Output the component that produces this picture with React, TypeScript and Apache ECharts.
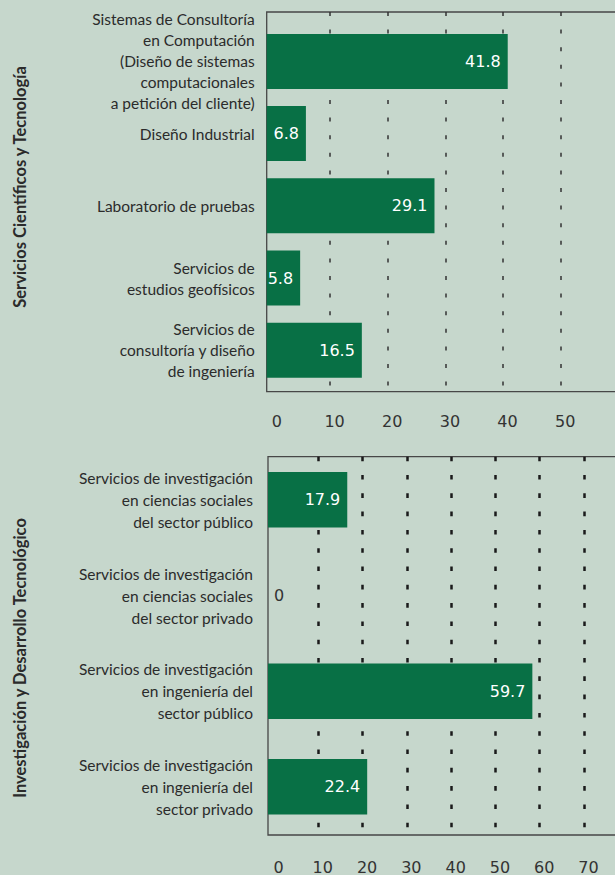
import React, { useEffect, useRef } from "react";
import * as echarts from "echarts";

// ---------- data ----------
const topTitle = "Servicios Científicos y Tecnología";
const topCategories = [
  "Sistemas de Consultoría\nen Computación\n(Diseño de sistemas\ncomputacionales\na petición del cliente)",
  "Diseño Industrial",
  "Laboratorio de pruebas",
  "Servicios de\nestudios geofísicos",
  "Servicios de\nconsultoría y diseño\nde ingeniería",
];
const topValues = [41.8, 6.8, 29.1, 5.8, 16.5];
const topTickLabels = [0, 10, 20, 30, 40, 50];
const topGridLines = [10, 20, 30, 40, 50, 60];

const bottomTitle = "Investigación y Desarrollo Tecnológico";
const bottomCategories = [
  "Servicios de investigación\nen ciencias sociales\ndel sector público",
  "Servicios de investigación\nen ciencias sociales\ndel sector privado",
  "Servicios de investigación\nen ingeniería del\nsector público",
  "Servicios de investigación\nen ingeniería del\nsector privado",
];
const bottomValues = [17.9, 0, 59.7, 22.4];
const bottomTickLabels = [0, 10, 20, 30, 40, 50, 60, 70];
const bottomGridLines = [10, 20, 30, 40, 50, 60, 70, 80];

// ---------- style / layout ----------
const BG = "#c6d7cc";
const BAR = "#087045";
const TEXT = "#2b2b2b";
const CHART_W = 650;
const FRAME_RIGHT = 630;

type Panel = {
  frameLeft: number;
  frameTop: number;
  frameBottom: number;
  zeroPx: number; // where the tick scale's zero sits
  pxPerUnit: number;
  catTop: number;
  catHeight: number;
  barWidth: number;
  dash: number[];
  dashWidth: number;
  dashColor: string;
  labelMargin: number;
  lineHeight: number;
  catMargin: number;
};

const topPanel: Panel = {
  frameLeft: 266.7,
  frameTop: 12,
  frameBottom: 391.7,
  zeroPx: 272.4,
  pxPerUnit: 5.766,
  catTop: 25.3,
  catHeight: 361,
  barWidth: 55,
  dash: [4, 13.6],
  dashWidth: 1.5,
  dashColor: "#333",
  labelMargin: 22,
  lineHeight: 21,
  catMargin: 12,
};

const bottomPanel: Panel = {
  frameLeft: 268,
  frameTop: 456.7,
  frameBottom: 835.7,
  zeroPx: 274,
  pxPerUnit: 4.428,
  catTop: 452,
  catHeight: 382.7,
  barWidth: 55.5,
  dash: [4.6, 13.7],
  dashWidth: 2.5,
  dashColor: "#1a1a1a",
  labelMargin: 24,
  lineHeight: 22,
  catMargin: 15,
};

function buildPanel(
  p: Panel,
  idx: number,
  cats: string[],
  values: number[],
  tickLabels: number[],
  gridLines: number[]
) {
  const width = FRAME_RIGHT - p.frameLeft;
  const right = CHART_W - FRAME_RIGHT;
  const tickMin = -(p.zeroPx - p.frameLeft) / p.pxPerUnit;
  const tickMax = tickMin + width / p.pxPerUnit;
  const barMax = width / p.pxPerUnit;
  const frameGrid = idx * 2;
  const barGrid = idx * 2 + 1;

  const grids = [
    {
      left: p.frameLeft,
      right,
      top: p.frameTop,
      height: p.frameBottom - p.frameTop,
      show: true,
      borderColor: "#474747",
      borderWidth: 1.3,
      backgroundColor: "transparent",
      containLabel: false,
    },
    {
      left: p.frameLeft,
      right,
      top: p.catTop,
      height: p.catHeight,
      containLabel: false,
    },
  ];

  const xAxes = [
    {
      gridIndex: frameGrid,
      type: "value",
      min: tickMin,
      max: tickMax,
      axisLine: { show: false },
      axisTick: { show: false, customValues: gridLines },
      axisLabel: {
        customValues: tickLabels,
        fontFamily: "DejaVu Sans",
        fontSize: 16,
        color: "#333",
        margin: p.labelMargin,
        padding: [0, 0, 0, 9],
      },
      splitLine: {
        show: true,
        lineStyle: { color: p.dashColor, width: p.dashWidth, type: p.dash },
      },
    },
    {
      gridIndex: barGrid,
      type: "value",
      min: 0,
      max: barMax,
      show: false,
    },
  ];

  const yAxes = [
    { gridIndex: frameGrid, type: "value", min: 0, max: 1, show: false },
    {
      gridIndex: barGrid,
      type: "category",
      inverse: true,
      data: cats,
      axisLine: { show: false },
      axisTick: { show: false },
      splitLine: { show: false },
      axisLabel: {
        fontFamily: "Lato",
        fontSize: 15.5,
        lineHeight: p.lineHeight,
        color: TEXT,
        margin: p.catMargin,
        align: "right",
      },
    },
  ];

  const series = {
    type: "bar",
    xAxisIndex: barGrid,
    yAxisIndex: barGrid,
    barWidth: p.barWidth,
    itemStyle: { color: BAR },
    label: {
      show: true,
      position: "insideRight",
      distance: 7,
      color: "#ffffff",
      fontFamily: "DejaVu Sans",
      fontSize: 16,
    },
    data: values.map((v) =>
      v === 0
        ? { value: v, label: { position: "right", color: "#333", distance: 6 } }
        : v
    ),
  };

  return { grids, xAxes, yAxes, series };
}

export default function App() {
  const ref = useRef<HTMLDivElement>(null);

  useEffect(() => {
    if (!ref.current) return;
    const chart = echarts.init(ref.current, null, { renderer: "svg" });
    const a = buildPanel(topPanel, 0, topCategories, topValues, topTickLabels, topGridLines);
    const b = buildPanel(
      bottomPanel,
      1,
      bottomCategories,
      bottomValues,
      bottomTickLabels,
      bottomGridLines
    );
    const titleStyle = {
      font: "bold 16.5px Lato",
      fill: TEXT,
      align: "center",
      verticalAlign: "middle",
    };
    chart.setOption({
      animation: false,
      backgroundColor: BG,
      grid: [...a.grids, ...b.grids],
      xAxis: [...a.xAxes, ...b.xAxes],
      yAxis: [...a.yAxes, ...b.yAxes],
      series: [a.series, b.series],
      graphic: [
        {
          type: "text",
          x: 20,
          y: 187,
          rotation: Math.PI / 2,
          style: { ...titleStyle, text: topTitle },
        },
        {
          type: "text",
          x: 20,
          y: 658,
          rotation: Math.PI / 2,
          style: { ...titleStyle, text: bottomTitle },
        },
      ],
    });
    return () => chart.dispose();
  }, []);

  return (
    <div
      style={{
        position: "fixed",
        left: 0,
        top: 0,
        width: 615,
        height: 875,
        overflow: "hidden",
        background: BG,
      }}
    >
      <div ref={ref} style={{ width: CHART_W, height: 875 }} />
    </div>
  );
}
